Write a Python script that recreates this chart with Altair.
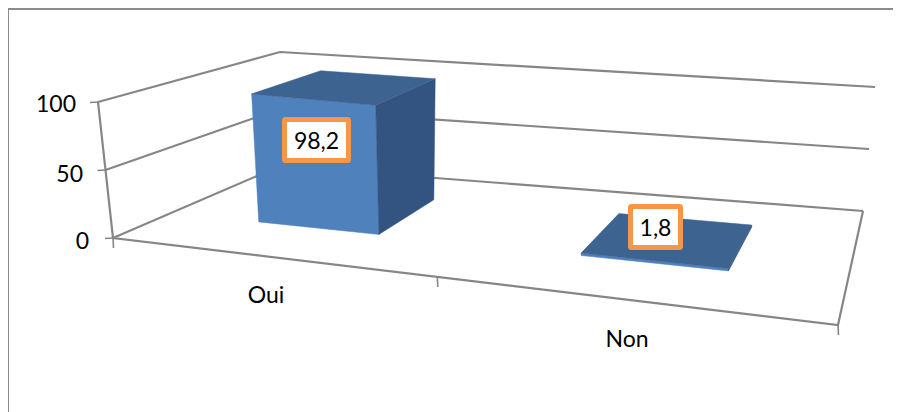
import altair as alt
import pandas as pd

# --- chart values -------------------------------------------------------
categories = ["Oui", "Non"]
values = [98.2, 1.8]
value_labels = ["98,2", "1,8"]
y_ticks = [0, 50, 100]
y_tick_labels = ["0", "50", "100"]

# --- 3-D view (floor corners and wall lean, in page units) ---------------
FL, FR, BR, BL = (113, 238), (838, 325), (863, 211), (280, 166)
LIFT = {"FL": (-15, -136), "FR": (8, -140), "BR": (12, -124), "BL": (0, -114)}
CENTERS = [0.268, 0.767]
HALVES = [0.103, 0.095]
V0, V1 = 0.30, 0.72
MID_TICK = 0.525


def solve():
    (x0, y0), (x1, y1), (x2, y2), (x3, y3) = FL, FR, BR, BL
    dx1, dx2, sx = x1 - x2, x3 - x2, x0 - x1 + x2 - x3
    dy1, dy2, sy = y1 - y2, y3 - y2, y0 - y1 + y2 - y3
    den = dx1 * dy2 - dx2 * dy1
    g = (sx * dy2 - dx2 * sy) / den
    h = (dx1 * sy - sx * dy1) / den
    return (x1 - x0 + g * x1, x3 - x0 + h * x3, x0,
            y1 - y0 + g * y1, y3 - y0 + h * y3, y0, g, h)


A, B, C, D, E, F, G, H = solve()


def project(u, v, z=0.0):
    w = G * u + H * v + 1
    x = (A * u + B * v + C) / w
    y = (D * u + E * v + F) / w
    t = z / 100.0
    lx = ((1 - u) * (1 - v) * LIFT["FL"][0] + u * (1 - v) * LIFT["FR"][0]
          + u * v * LIFT["BR"][0] + (1 - u) * v * LIFT["BL"][0])
    ly = ((1 - u) * (1 - v) * LIFT["FL"][1] + u * (1 - v) * LIFT["FR"][1]
          + u * v * LIFT["BR"][1] + (1 - u) * v * LIFT["BL"][1])
    return x + lx * t, y + ly * t


X = alt.Scale(domain=[8, 893], range=[0, 885])
Y = alt.Scale(domain=[8, 412], range=[0, 404])
x_ = alt.X("x:Q", scale=X, axis=None)
y_ = alt.Y("y:Q", scale=Y, axis=None)
GRID = "#868686"


def path(points, color, width=2.2, fill=None, closed=False):
    pts = list(points) + ([points[0]] if closed else [])
    df = pd.DataFrame({"x": [p[0] for p in pts], "y": [p[1] for p in pts],
                       "i": list(range(len(pts)))})
    kw = {"fill": fill} if fill else {}
    return alt.Chart(df).mark_line(color=color, strokeWidth=width, clip=False,
                                   strokeJoin="miter", **kw).encode(
        x=x_, y=y_, order="i:Q")


layers = []

# chart frame
layers.append(path([(8, 412), (8, 9), (893, 9)], "#8C8C8C", 2))

# gridlines over left and back walls
for z in y_ticks:
    layers.append(path([project(0, 0, z), project(0, 1, z), project(1, 1, z)], GRID))
# axis lines
layers.append(path([project(0, 0, 100), project(0, 0, 0), project(1, 0, 0), project(1, 1, 0)], GRID))
# value-axis ticks
for z in y_ticks:
    px, py = project(0, 0, z)
    layers.append(path([(px, py), (px - 8, py + 0.5)], GRID, 1.6))
# category-axis ticks
for u in (0, MID_TICK, 1):
    px, py = project(u, 0, 0)
    layers.append(path([(px, py), (px + 0.5, py + 10)], GRID, 1.6))

# bars
for c, half, val in zip(CENTERS, HALVES, values):
    u0, u1 = c - half, c + half
    layers.append(path([project(u0, V0, 0), project(u1, V0, 0), project(u1, V0, val), project(u0, V0, val)],
                       "#4F81BD", 0.5, "#4F81BD", True))
    layers.append(path([project(u1, V0, 0), project(u1, V1, 0), project(u1, V1, val), project(u1, V0, val)],
                       "#335380", 0.5, "#335380", True))
    layers.append(path([project(u0, V0, val), project(u1, V0, val), project(u1, V1, val), project(u0, V1, val)],
                       "#3D6390", 0.5, "#3D6390", True))

# data labels
box_cx = [316.5, 655.5]
box_cy = [140, 227]
box_w = [64, 50]
box_h = 41
labels = pd.DataFrame({
    "t": value_labels,
    "x": box_cx,
    "y": [c + 1.5 for c in box_cy],
    "x0": [c - w / 2 for c, w in zip(box_cx, box_w)],
    "x1": [c + w / 2 for c, w in zip(box_cx, box_w)],
    "y0": [c - box_h / 2 for c in box_cy],
    "y1": [c + box_h / 2 for c in box_cy],
})
layers.append(alt.Chart(labels).mark_rect(fill="white", stroke="#F79646", strokeWidth=5, cornerRadius=1).encode(
    x=alt.X("x0:Q", scale=X, axis=None), x2="x1:Q",
    y=alt.Y("y0:Q", scale=Y, axis=None), y2="y1:Q"))
FONT = "Lato"
SIZE = 23
layers.append(alt.Chart(labels).mark_text(font=FONT, fontSize=SIZE, color="black", align="center", baseline="middle").encode(
    x=x_, y=y_, text="t:N"))

# axis labels
axis_df = pd.DataFrame({"t": y_tick_labels, "x": [89, 83, 76], "y": [241.5, 174.5, 105]})
layers.append(alt.Chart(axis_df).mark_text(font=FONT, fontSize=SIZE, color="black", align="right", baseline="middle").encode(
    x=x_, y=y_, text="t:N"))
cat_df = pd.DataFrame({"t": categories, "x": [266, 627], "y": [295.5, 339.5]})
layers.append(alt.Chart(cat_df).mark_text(font=FONT, fontSize=SIZE, color="black", align="center", baseline="middle").encode(
    x=x_, y=y_, text="t:N"))

chart = alt.layer(*layers).properties(
    width=885, height=404, padding=0, autosize=alt.AutoSizeParams(type="none"),
    background="white",
).configure_view(stroke=None)

chart.save("out.html", embed_options={"renderer": "svg", "actions": False})
